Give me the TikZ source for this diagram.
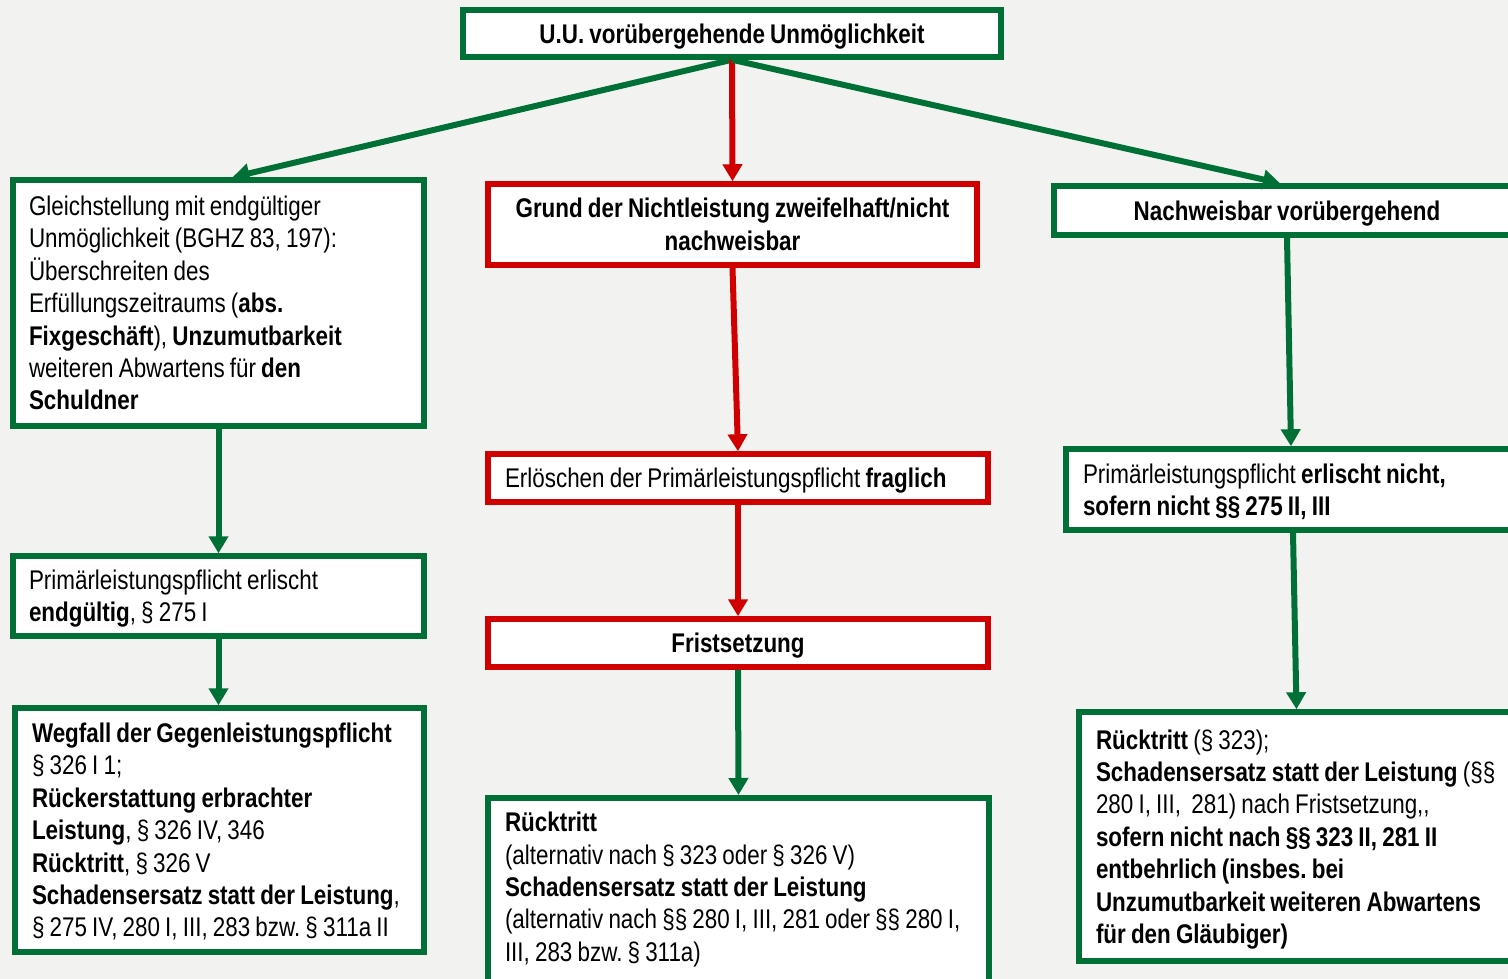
\documentclass[tikz,border=0pt]{standalone}
\usepackage{fontspec}
\setmainfont{Liberation Sans}[FakeStretch=0.83,WordSpace=0.83]
\usetikzlibrary{arrows.meta}
\definecolor{bgc}{RGB}{242,242,240}
\definecolor{grn}{RGB}{0,112,55}
\definecolor{rd}{RGB}{208,0,0}
\hyphenpenalty=10000
\exhyphenpenalty=10000
\frenchspacing
% line strut: height 25.9pt, depth 6.5pt (one 32.4pt line, centred on the capitals)
\newcommand\linestrut{\rule[-6.5pt]{0pt}{32.4pt}}
\begin{document}
\begin{tikzpicture}[x=1pt,y=-1pt,
  font=\fontsize{27}{32.4}\selectfont,
  box/.style={draw, fill=white, line width=5.5pt, rectangle, inner xsep=17pt, inner ysep=0pt,
    execute at begin node=\linestrut, execute at end node=\linestrut},
  gbox/.style={box, draw=grn},
  rbox/.style={box, draw=rd},
  garrow/.style={draw=grn, line width=6pt, -{Triangle[length=17pt,width=19pt]}},
  rarrow/.style={draw=rd, line width=6pt, -{Triangle[length=17pt,width=19pt]}}
]
\useasboundingbox (0,0) rectangle (1508,979);
\clip (0,0) rectangle (1508,979);
\fill[bgc] (0,0) rectangle (1508,979);

% top
\node[gbox, minimum width=538pt, minimum height=47pt] (top) at (732,33.5)
  {\textbf{U.U. vorübergehende Unmöglichkeit}};

% left column
\node[gbox, minimum width=411pt, minimum height=246pt, text width=379pt, align=flush left, inner xsep=16pt] (left1) at (218.5,303)
  {Gleichstellung mit endgültiger\\
   Unmöglichkeit (BGHZ 83, 197):\\
   Überschreiten des\\
   Erfüllungszeitraums (\textbf{abs.}\\
   \textbf{Fixgeschäft}), \textbf{Unzumutbarkeit}\\
   weiteren Abwartens für \textbf{den}\\
   \textbf{Schuldner}};
\node[gbox, minimum width=411pt, minimum height=80pt, text width=379pt, align=flush left, inner xsep=16pt] (left2) at (218.5,596)
  {Primärleistungspflicht erlischt\\
   \textbf{endgültig}, § 275 I};
\node[gbox, minimum width=409pt, minimum height=244pt, text width=375pt, align=flush left] (left3) at (219.5,830)
  {\textbf{Wegfall der Gegenleistungspflicht}\\
   § 326 I 1;\\
   \textbf{Rückerstattung erbrachter}\\
   \textbf{Leistung}, § 326 IV, 346\\
   \textbf{Rücktritt}, § 326 V\\
   \textbf{Schadensersatz statt der Leistung},\\
   § 275 IV, 280 I, III, 283 bzw. § 311a II};

% middle column
\node[rbox, minimum width=489pt, minimum height=81pt, text width=455pt, align=flush center] (mid1) at (732.5,224.5)
  {\textbf{Grund der Nichtleistung zweifelhaft/nicht}\\
   \textbf{nachweisbar}};
\node[rbox, minimum width=500pt, minimum height=48pt, text width=466pt, align=flush left] (mid2) at (738,478)
  {Erlöschen der Primärleistungspflicht \textbf{fraglich}};
\node[rbox, minimum width=500pt, minimum height=48pt] (mid3) at (738,643)
  {\textbf{Fristsetzung}};
\node[gbox, minimum width=501pt, inner ysep=8pt, anchor=north,
      execute at begin node={}, execute at end node={}] (mid4) at (738.5,795)
  {\begin{minipage}[t][200pt][t]{467pt}\raggedright\linestrut
   \textbf{Rücktritt}\\
   (alternativ nach § 323 oder § 326 V)\\
   \textbf{Schadensersatz statt der Leistung}\\
   (alternativ nach §§ 280 I, III, 281 oder §§ 280 I,\\
   III, 283 bzw. § 311a)
   \end{minipage}};

% right column
\node[gbox, minimum width=466pt, minimum height=49pt] (r1) at (1287,210.5)
  {\textbf{Nachweisbar vorübergehend}};
\node[gbox, minimum width=454pt, minimum height=81pt, text width=420pt, align=flush left] (r2) at (1293,489.5)
  {Primärleistungspflicht \textbf{erlischt nicht,}\\
   \textbf{sofern nicht §§ 275 II, III}};
\node[gbox, minimum width=441pt, minimum height=249pt, text width=407pt, align=flush left] (r3) at (1299.5,836.5)
  {\textbf{Rücktritt} (§ 323);\\
   \textbf{Schadensersatz statt der Leistung} (§§\\
   280 I, III,\ \ 281) nach Fristsetzung,{},\\
   \textbf{sofern nicht nach §§ 323 II, 281 II}\\
   \textbf{entbehrlich (insbes. bei}\\
   \textbf{Unzumutbarkeit weiteren Abwartens}\\
   \textbf{für den Gläubiger)}};

% connectors
\draw[garrow] (top.south) -- ([xshift=14pt]left1.north);
\draw[rarrow] (top.south) -- (mid1.north);
\draw[garrow] (top.south) -- ([xshift=-7pt]r1.north);
\draw[garrow] (left1.south) -- (left2.north);
\draw[garrow] (left2.south) -- ([xshift=-1pt]left3.north);
\draw[rarrow] (mid1.south) -- (mid2.north);
\draw[rarrow] (mid2.south) -- (mid3.north);
\draw[garrow] (mid3.south) -- (mid4.north);
\draw[garrow] (r1.south) -- ([xshift=-2pt]r2.north);
\draw[garrow] (r2.south) -- ([xshift=-3pt]r3.north);
\end{tikzpicture}
\end{document}
